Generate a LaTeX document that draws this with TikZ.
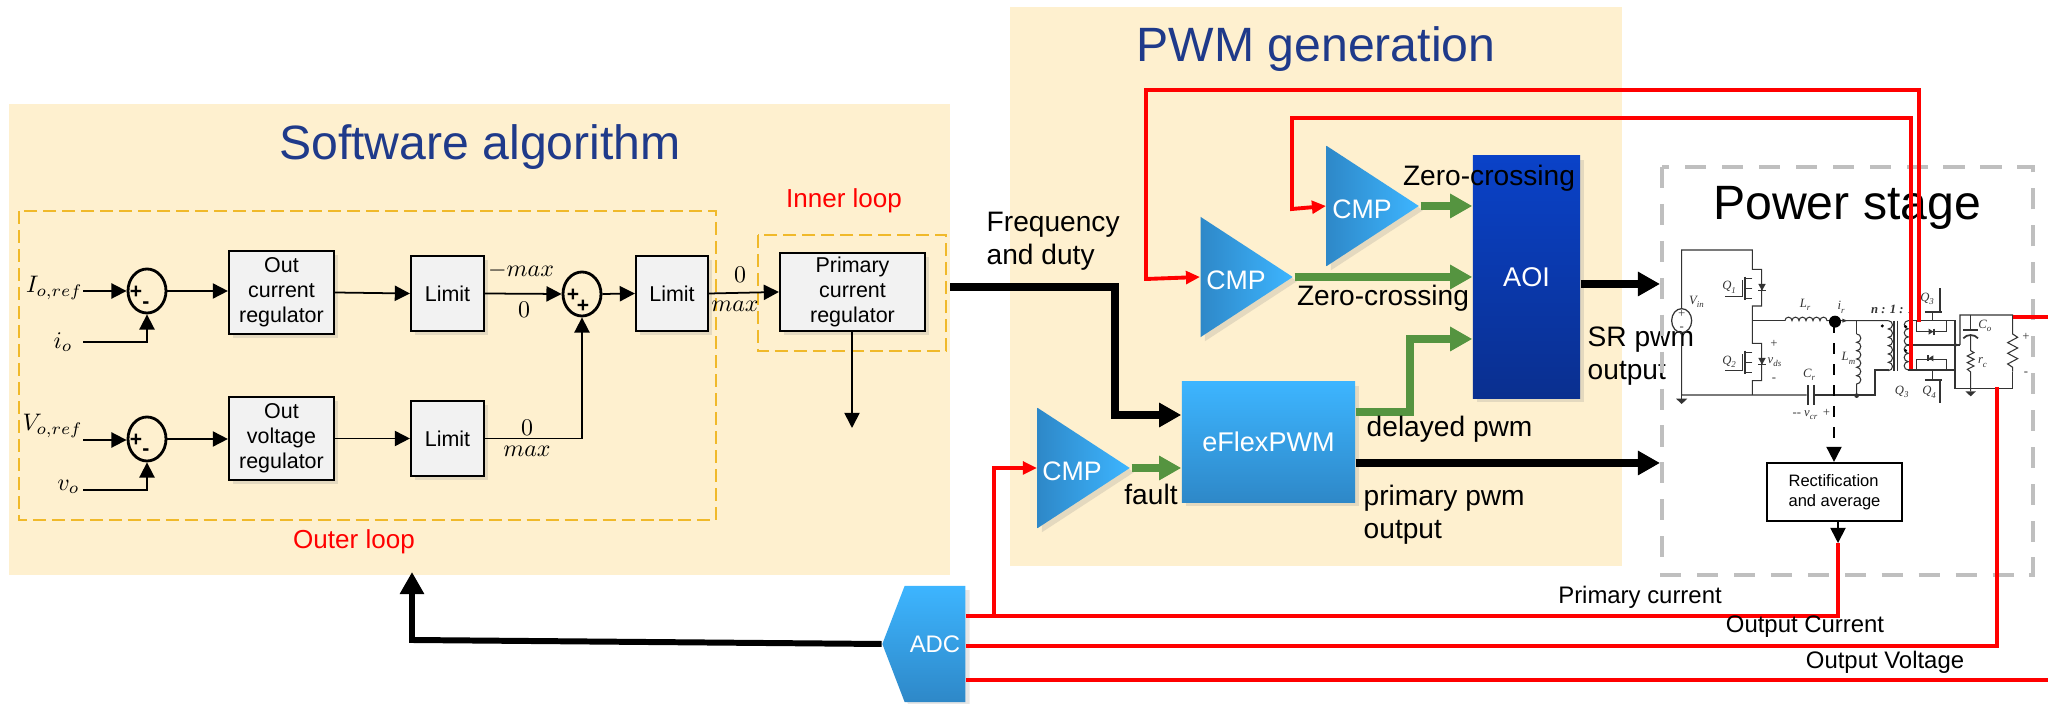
\documentclass[tikz,border=0pt]{standalone}
\usepackage{fontspec}
\setmainfont{Liberation Sans}
\newfontfamily\circfont{Liberation Serif}
\usetikzlibrary{arrows.meta,shapes.geometric,shapes.symbols,shadows}

\definecolor{panelbg}{HTML}{FEF0CF}
\definecolor{titleblue}{HTML}{1F3A8A}
\definecolor{dashorange}{HTML}{F0B92A}
\definecolor{boxgray}{HTML}{F2F2F2}
\definecolor{sigreen}{HTML}{559440}
\definecolor{skyhi}{HTML}{3DB5FF}
\definecolor{skylo}{HTML}{2E88C8}
\definecolor{aoihi}{HTML}{0A42C8}
\definecolor{aoilo}{HTML}{0A2F8F}

\tikzset{
    softshadow/.style={drop shadow={opacity=0.2,shadow xshift=1.2pt,shadow yshift=-1.2pt}},
    titletext/.style={font=\fontsize{13.7}{16}\selectfont,text=titleblue,inner sep=0},
    looptext/.style={font=\fontsize{7.4}{9}\selectfont,text=red,inner sep=0},
    looparea/.style={draw=dashorange,line width=0.4pt,dash pattern=on 3.7pt off 1.7pt},
    blockbox/.style={draw=black,line width=0.6pt,fill=boxgray,align=center,inner sep=0,
        font=\fontsize{6.1}{7.1}\selectfont,softshadow},
    sumnode/.style={draw=black,ellipse,line width=0.8pt,minimum width=0.38cm,minimum height=0.44cm,inner sep=0},
    sumsign/.style={font=\fontsize{6}{6}\bfseries\selectfont,inner sep=0},
    mathtext/.style={font=\fontsize{10}{12}\selectfont,inner sep=0,scale=0.68,transform shape},
    blacktext/.style={font=\fontsize{8}{9.4}\selectfont,inner sep=0,align=left},
    smalltext/.style={font=\fontsize{6.8}{8}\selectfont,inner sep=0},
    thinline/.style={line width=0.5pt,-{Triangle[length=4.3pt,width=4.3pt]}},
    thickline/.style={line width=2.3pt,-{Triangle[length=6.3pt,width=6.6pt]}},
    greenline/.style={draw=sigreen,line width=2.3pt,-{Triangle[length=6.3pt,width=6.6pt]},sigreen},
    redline/.style={draw=red,line width=1.1pt},
    redarrow/.style={redline,-{Triangle[length=4pt,width=3.6pt]}},
    cmpshape/.style={isosceles triangle,isosceles triangle stretches,shape border rotate=0,inner sep=0,
        minimum width=1.2cm,minimum height=0.92cm,left color=skylo,right color=skyhi,draw=none,softshadow},
    cmptext/.style={font=\fontsize{7.6}{9}\selectfont,text=white,inner sep=0},
    skybox/.style={top color=skyhi,bottom color=skylo,draw=none,softshadow,text=white,inner sep=0,
        font=\fontsize{7.7}{9}\selectfont},
    circuit/.style={line width=0.3pt,draw=black!80},
    circtext/.style={font=\fontsize{3.6}{4}\circfont\itshape,inner sep=0,text=black!80}
}

\begin{document}
\begin{tikzpicture}[x=0.01cm,y=-0.01cm]
    \useasboundingbox (0,0) rectangle (2048,704);

    % panels
    \fill[panelbg] (9,104) rectangle (950,575);
    \fill[panelbg] (1010,7) rectangle (1622,566);
    \node[titletext] (softtitle) at (480,147) {Software algorithm};
    \node[titletext] (pwmtitle) at (1316,49) {PWM generation};

    \draw[looparea] (19,211) rectangle (716,520);
    \draw[looparea] (758,235) rectangle (946,351);
    \node[looptext] (innerlabel) at (844,201) {Inner loop};
    \node[looptext] (outerlabel) at (354,542) {Outer loop};

    % outer loop
    \node[mathtext,anchor=east] (iref) at (83,288) {$I_{o,ref}$};
    \node[mathtext,anchor=east] (ifb) at (73,342) {$i_{o}$};
    \node[mathtext,anchor=east] (vref) at (83,426) {$V_{o,ref}$};
    \node[mathtext,anchor=east] (vfb) at (80,487) {$v_{o}$};
    \node[sumnode] (suma) at (147,291) {};
    \node[sumnode] (sumb) at (147,439) {};
    \node[sumnode] (sumc) at (582,294) {};
    \node[sumsign] (sumaplus) at (136,292) {+};
    \node[sumsign] (sumaminus) at (146,305) {-};
    \node[sumsign] (sumbplus) at (136,440) {+};
    \node[sumsign] (sumbminus) at (146,452) {-};
    \node[sumsign] (sumcplus) at (573,295) {+};
    \node[sumsign] (sumcplusb) at (583,306) {+};

    \node[blockbox,minimum width=1.05cm,minimum height=0.83cm] (curreg) at (281.5,292.5) {Out\\current\\regulator};
    \node[blockbox,minimum width=1.05cm,minimum height=0.83cm] (volreg) at (281.5,438.5) {Out\\voltage\\regulator};
    \node[blockbox,minimum width=0.73cm,minimum height=0.75cm] (lima) at (447.5,293.5) {Limit};
    \node[blockbox,minimum width=0.73cm,minimum height=0.75cm] (limb) at (447.5,438.5) {Limit};
    \node[blockbox,minimum width=0.72cm,minimum height=0.75cm] (limc) at (672,293.5) {Limit};
    \node[blockbox,minimum width=1.45cm,minimum height=0.78cm] (prireg) at (852.5,292) {Primary\\current\\regulator};

    \coordinate (ifbend) at (83,342);
    \coordinate (vfbend) at (83,490);
    \coordinate (irefend) at (83,291);
    \coordinate (vrefend) at (83,440);
    \coordinate (prioutend) at (852,428);
    \draw[thinline] (irefend) -- (suma.west);
    \draw[thinline] (ifbend) -- (147,342) -- (suma.south);
    \draw[thinline] (vrefend) -- (sumb.west |- vrefend);
    \draw[thinline] (vfbend) -- (147,490) -- (sumb.south);
    \draw[thinline] (suma.east) -- (curreg.west |- suma.east);
    \draw[thinline] (sumb.east) -- (volreg.west |- sumb.east);
    \draw[thinline] (curreg.east) -- (lima.west);
    \draw[thinline] (volreg.east) -- (limb.west);
    \draw[thinline] (lima.east) -- (sumc.west);
    \draw[thinline] (limb.east) -- (582,438.5) -- (sumc.south);
    \draw[thinline] (sumc.east) -- (limc.west);
    \draw[thinline] (limc.east) -- (prireg.west);
    \draw[thinline] (prireg.south -| prioutend) -- (prioutend);

    \node[mathtext] (maxa) at (521,271) {$-max$};
    \node[mathtext] (zeroa) at (524,310) {$0$};
    \node[mathtext] (zerob) at (527,428) {$0$};
    \node[mathtext] (maxb) at (527,451) {$max$};
    \node[mathtext] (zeroc) at (740,275) {$0$};
    \node[mathtext] (maxc) at (735,306) {$max$};

    % PWM part
    \node[cmpshape,anchor=lower side] (cmpb) at (1200,277) {};
    \node[cmpshape,anchor=lower side] (cmpa) at (1326,206) {};
    \node[cmpshape,anchor=lower side] (cmpc) at (1037,468) {};
    \node[cmptext] (cmpbtext) at (1236,280) {CMP};
    \node[cmptext] (cmpatext) at (1362,209) {CMP};
    \node[cmptext] (cmpctext) at (1072,471) {CMP};
    \node[skybox,minimum width=1.73cm,minimum height=1.2cm] (eflex) at (1268.5,442) {eFlexPWM};
    \node[skybox,top color=aoihi,bottom color=aoilo,minimum width=1.07cm,minimum height=2.42cm] (aoi) at (1526.5,277) {AOI};

    \draw[greenline] (cmpa.apex) -- (aoi.west |- cmpa.apex);
    \draw[greenline] (cmpb.apex) -- (aoi.west |- cmpb.apex);
    \draw[greenline] (cmpc.apex) -- (eflex.west |- cmpc.apex);
    \draw[greenline] (eflex.east |- 0,412) -- (1410,412) -- (1410,339) -- (aoi.west |- 0,339);

    \coordinate (freqstart) at (950,287);
    \draw[thickline] (freqstart) -- (1115,287) -- (1115,415) -- (eflex.west |- 0,415);
    \coordinate (powersr) at (1660,284);
    \coordinate (powerpri) at (1660,463);
    \draw[thickline] (aoi.east |- powersr) -- (powersr);
    \draw[thickline] (eflex.east |- powerpri) -- (powerpri);

    \node[blacktext,anchor=west] (freqlabel) at (986,241) {Frequency\\and duty};
    \node[blacktext] (zeroup) at (1489,178) {Zero-crossing};
    \node[blacktext] (zerolow) at (1383,298) {Zero-crossing};
    \node[blacktext,anchor=west] (srlabel) at (1587,356) {SR pwm\\output};
    \node[blacktext,anchor=west] (delaylabel) at (1366,429) {delayed pwm};
    \node[blacktext] (faultlabel) at (1151,494) {fault};
    \node[blacktext,anchor=west] (prilabel) at (1363,515) {primary pwm\\output};

    % power stage
    \draw[draw=black!25,line width=1.4pt,dash pattern=on 6pt off 4.5pt] (1662,167) rectangle (2033,575);
    \node[font=\fontsize{13.7}{16}\selectfont,inner sep=0] (powertitle) at (1847,208) {Power stage};
    \node[draw=black,line width=0.6pt,fill=white,align=left,inner sep=0,minimum width=1.35cm,minimum height=0.58cm,font=\fontsize{4.7}{5.6}\selectfont] (rectbox) at (1834.5,492) {Rectification\\and average};

    \begin{scope}[shift={(1640,230)},scale=0.3333]
        % source and supply rail
        \node[draw=black!80,ellipse,minimum width=0.2cm,minimum height=0.24cm,inner sep=0,line width=0.35pt] (vin) at (125,272) {};
        \node[circtext] (vinplus) at (125,252) {+};
        \node[circtext] (vinminus) at (125,296) {-};
        \draw[circuit] (vin.north) -- (125,60) -- (337,60) -- (337,118) -- (365,118) -- (365,228) -- (337,228) -- (337,340) -- (365,340) -- (365,452) -- (337,452) -- (337,495);
        \draw[circuit] (vin.south) -- (125,495) -- (500,495);
        \draw[circuit] (125,495) -- (125,508);
        \fill[black!80] (108,506) -- (142,506) -- (125,522) -- cycle;
        % half bridge switches
        \foreach \yy in {0,222} {
            \draw[circuit] (337,145+\yy) -- (316,145+\yy);
            \draw[circuit] (316,205+\yy) -- (337,205+\yy);
            \draw[circuit] (337,175+\yy) -- (316,175+\yy);
            \draw[circuit,line width=0.5pt] (316,140+\yy) -- (316,210+\yy);
            \draw[circuit] (255,200+\yy) -- (308,200+\yy) -- (308,150+\yy);
            \fill[black!80] (355,162+\yy) -- (377,162+\yy) -- (366,182+\yy) -- cycle;
            \draw[circuit] (355,182+\yy) -- (377,182+\yy);
        }
        % resonant tank
        \draw[circuit] (337,272) -- (435,272);
        \draw[circuit] (435,272) arc (180:360:10.5) arc (180:360:10.5) arc (180:360:10.5) arc (180:360:10.5) arc (180:360:10.5) arc (180:360:10.5) -- (745,272);
        \fill[black] (585,275) circle (18);
        \fill[black!80] (607,266) -- (622,272) -- (607,278) -- cycle;
        \draw[circuit] (650,272) -- (650,312);
        \draw[circuit] (650,312) arc (-90:90:12.5) arc (-90:90:12.5) arc (-90:90:12.5) arc (-90:90:12.5) arc (-90:90:12.5) arc (-90:90:12.5) -- (650,495);
        \fill[black!80] (650,497) circle (7);
        \draw[circuit,line width=0.5pt] (503,465) -- (503,525);
        \draw[circuit,line width=0.5pt] (522,465) -- (522,525);
        \draw[circuit] (522,495) -- (705,495) -- (705,420) -- (748,420);
        % transformer
        \draw[circuit] (745,272) arc (-90:90:12.5) arc (-90:90:12.5) arc (-90:90:12.5) arc (-90:90:12.5) arc (-90:90:12.5) arc (-90:90:12.5);
        \draw[circuit] (762,272) -- (762,422);
        \draw[circuit] (772,272) -- (772,422);
        \draw[circuit] (805,272) arc (-90:-270:12.2) arc (-90:-270:12.2) arc (-90:-270:12.2);
        \draw[circuit] (805,345) arc (-90:-270:12.5) arc (-90:-270:12.5) arc (-90:-270:12.5);
        \fill[black] (727,288) circle (5);
        \fill[black] (797,290) circle (5);
        \fill[black] (797,362) circle (5);
        % rectifier
        \draw[circuit] (805,272) -- (830,272) -- (830,305) -- (920,305) -- (920,272) -- (945,272) -- (945,475) -- (1118,475) -- (1118,425);
        \draw[circuit] (830,272) -- (920,272);
        \draw[circuit] (805,420) -- (945,420);
        \draw[circuit] (830,420) -- (830,388) -- (920,388) -- (920,420);
        \draw[circuit] (805,345) -- (960,345);
        \fill[black!80] (945,339) -- (955,345) -- (945,351) -- cycle;
        \draw[circuit] (960,345) -- (960,255) -- (1118,255) -- (1118,312) -- (1133,322) -- (1103,338) -- (1133,354) -- (1103,370) -- (1133,386) -- (1103,402) -- (1118,412) -- (1118,425);
        \draw[circuit,line width=0.5pt] (855,245) -- (905,245);
        \draw[circuit,line width=0.5pt] (855,450) -- (905,450);
        \draw[circuit] (878,272) -- (878,245);
        \draw[circuit] (900,245) -- (900,175);
        \draw[circuit] (878,420) -- (878,450);
        \draw[circuit] (900,450) -- (900,520);
        \fill[black!80] (866,296) -- (866,314) -- (880,305) -- cycle;
        \draw[circuit] (882,296) -- (882,314);
        \fill[black!80] (880,376) -- (880,394) -- (866,385) -- cycle;
        \draw[circuit] (864,376) -- (864,394);
        % output filter
        \draw[circuit] (992,255) -- (992,298);
        \draw[circuit,line width=0.5pt] (970,300) -- (1014,300);
        \draw[circuit,line width=0.5pt] (970,325) .. controls (980,312) and (1004,312) .. (1014,325);
        \draw[circuit] (992,316) -- (992,362) -- (1002,368) -- (982,378) -- (1002,388) -- (982,398) -- (1002,408) -- (982,418) -- (992,426) -- (992,484);
        \fill[black!80] (976,484) -- (1008,484) -- (992,499) -- cycle;
        % circuit labels
        \node[circtext] (labvin) at (172,215) {V\textsubscript{in}};
        \node[circtext] (labqa) at (270,172) {Q\textsubscript{1}};
        \node[circtext] (labqb) at (270,396) {Q\textsubscript{2}};
        \node[circtext] (labvds) at (406,396) {v\textsubscript{ds}};
        \node[circtext] (labvp) at (402,342) {+};
        \node[circtext] (labvm) at (402,450) {-};
        \node[circtext] (lablr) at (498,225) {L\textsubscript{r}};
        \node[circtext] (labir) at (606,232) {i\textsubscript{r}};
        \node[circtext] (labn) at (758,238) {\textbf{n : 1 : 1}};
        \node[circtext] (labqc) at (864,206) {Q\textsubscript{3}};
        \node[circtext] (labqe) at (788,485) {Q\textsubscript{3}};
        \node[circtext] (labqd) at (870,487) {Q\textsubscript{4}};
        \node[circtext] (lablm) at (628,385) {L\textsubscript{m}};
        \node[circtext] (labcr) at (510,435) {C\textsubscript{r}};
        \node[circtext] (labvcr) at (515,553) {-- v\textsubscript{cr} +};
        \node[circtext] (labco) at (1037,288) {C\textsubscript{o}};
        \node[circtext] (labrc) at (1030,397) {r\textsubscript{c}};
        \node[circtext] (labop) at (1158,320) {+};
        \node[circtext] (labom) at (1158,430) {-};
    \end{scope}
    \coordinate (irsense) at (1834,322);
    \draw[line width=0.5pt,dashed,-{Triangle[length=4.3pt,width=4.3pt]}] (irsense) -- (rectbox.north -| irsense);

    % ADC and sensed signals
    \node[skybox,signal,signal to=west,signal pointer angle=138,minimum width=0.83cm,minimum height=1.16cm,
        font=\fontsize{6.8}{8}\selectfont] (adc) at (935,644) {ADC};
    \coordinate (softin) at (412,572);
    \draw[thickline,line width=1.7pt] (adc.west) -- (412,640) -- (softin);

    \coordinate (rectdrop) at (1838,543);
    \draw[redline] (adc.east |- 0,616) -- (1838,616) -- (rectdrop);
    \draw[redarrow] (994,616) -- (994,468) -- (cmpc.lower side);
    \draw[redline] (adc.east |- 0,646) -- (1997,646) -- (1997,387);
    \draw[redline] (adc.east |- 0,680) -- (2048,680);
    \coordinate (voltap) at (2013,317);
    \draw[redline] (voltap) -- (2048,317);
    \coordinate (swtapa) at (1919,322);
    \coordinate (swtapb) at (1911,369);
    \draw[redarrow] (swtapa) -- (1919,90) -- (1146,90) -- (1146,279) -- (cmpb.lower side);
    \draw[redarrow] (swtapb) -- (1911,118) -- (1292,118) -- (1292,209) -- (cmpa.lower side);
    \draw[thinline] (rectbox.south -| rectdrop) -- (rectdrop);

    \node[smalltext] (pricurlabel) at (1640,597) {Primary current};
    \node[smalltext] (outcurlabel) at (1805,627) {Output Current};
    \node[smalltext] (outvollabel) at (1885,662) {Output Voltage};
\end{tikzpicture}
\end{document}
